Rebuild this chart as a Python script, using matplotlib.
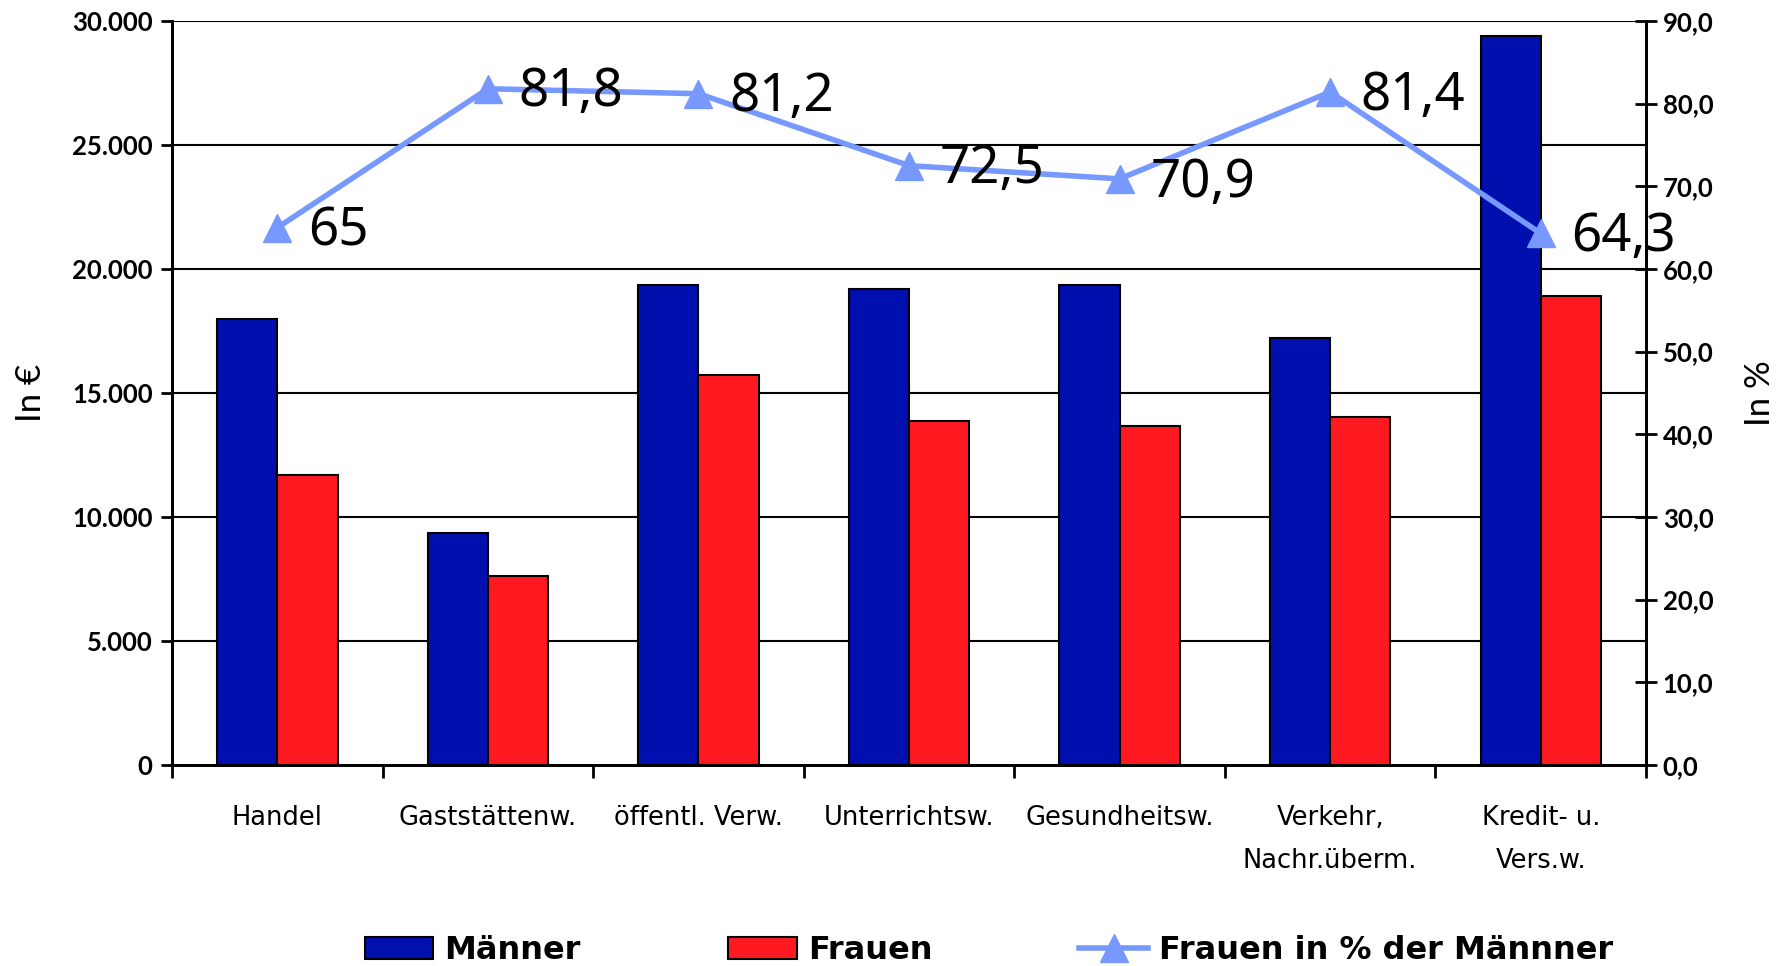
import matplotlib
matplotlib.use('Agg')
import matplotlib.pyplot as plt
import numpy as np

# data
BRANCHES = ['Handel', 'Gaststättenw.', 'öffentl. Verw.', 'Unterrichtsw.',
            'Gesundheitsw.', 'Verkehr,\nNachr.überm.', 'Kredit- u.\nVers.w.']
MAENNER = [18000, 9350, 19370, 19190, 19370, 17210, 29400]
FRAUEN = [11700, 7640, 15740, 13850, 13670, 14040, 18910]
QUOTE = [65, 81.8, 81.2, 72.5, 70.9, 81.4, 64.3]
QUOTE_LABELS = ['65', '81,8', '81,2', '72,5', '70,9', '81,4', '64,3']

LEFT_TICKS = [0, 5000, 10000, 15000, 20000, 25000, 30000]
RIGHT_TICKS = [0, 10, 20, 30, 40, 50, 60, 70, 80, 90]

BLUE = '#0010AE'
RED = '#FF1A22'
LINE = '#7799FF'
TICK_FONT = ['Lato', 'DejaVu Sans']
XLAB_FONT = ['DejaVu Sans']
LAB_FONT = ['Noto Sans', 'DejaVu Sans']

plt.rcParams['axes.linewidth'] = 2.0

fig = plt.figure(figsize=(17.87, 9.66), dpi=100)
ax = fig.add_axes([0.0963, 0.2081, 0.9211 - 0.0963, 0.9783 - 0.2081])

x = np.arange(len(BRANCHES))
w = 0.286
ax.bar(x - w / 2, MAENNER, w, color=BLUE, edgecolor='black', linewidth=1.5,
       label='Männer', zorder=3)
ax.bar(x + w / 2, FRAUEN, w, color=RED, edgecolor='black', linewidth=1.5,
       label='Frauen', zorder=3)

ax.set_xlim(-0.5, len(BRANCHES) - 0.5)
ax.set_ylim(0, 30000)
ax.set_yticks(LEFT_TICKS)
ax.set_yticklabels(['{:,}'.format(v).replace(',', '.') for v in LEFT_TICKS],
                   fontsize=18.5, fontweight='bold', family=TICK_FONT)
ax.tick_params(axis='y', direction='out', length=8, width=2, pad=6)
for v in LEFT_TICKS[1:]:
    ax.axhline(v, color='black', linewidth=1.5, zorder=1)
ax.spines['top'].set_visible(False)

# x axis: ticks at category borders, labels at centres
ax.set_xticks(np.arange(-0.5, len(BRANCHES), 1.0))
ax.set_xticklabels([])
ax.tick_params(axis='x', which='major', direction='out', length=9, width=2)
ax.set_xticks(x, minor=True)
ax.set_xticklabels(BRANCHES, minor=True, fontsize=18.5, family=XLAB_FONT,
                   linespacing=1.85, va='top')
ax.tick_params(axis='x', which='minor', length=0, pad=29)

ax.set_ylabel('In €', fontsize=25, family=TICK_FONT, labelpad=18)

ax2 = ax.twinx()
ax2.set_ylim(0, 90)
ax2.set_yticks(RIGHT_TICKS)
ax2.set_yticklabels(['{:.1f}'.format(v).replace('.', ',') for v in RIGHT_TICKS],
                    fontsize=18.5, fontweight='bold', family=TICK_FONT)
ax2.tick_params(axis='y', direction='inout', length=16, width=2, pad=4)
ax2.spines['top'].set_visible(False)
ax2.set_ylabel('In %', fontsize=25, family=TICK_FONT, labelpad=22)

ax2.plot(x, QUOTE, color=LINE, linewidth=4, marker='^', markersize=20,
         label='Frauen in % der Männner', zorder=5)
for xi, yi, lab in zip(x, QUOTE, QUOTE_LABELS):
    ax2.annotate(lab, (xi, yi), xytext=(22, -3), textcoords='offset points',
                 ha='left', va='center', fontsize=38, family=LAB_FONT,
                 fontweight='semibold', color='black', zorder=6)

h1, l1 = ax.get_legend_handles_labels()
h2, l2 = ax2.get_legend_handles_labels()
fig.legend(h1 + h2, l1 + l2, loc='center left', bbox_to_anchor=(0.188, 0.016),
           ncol=3, frameon=False, columnspacing=4.6, handlelength=2.15,
           handletextpad=0.35,
           prop={'family': ['DejaVu Sans'], 'weight': 'bold', 'size': 23})

fig.savefig('out.png', dpi=100)
